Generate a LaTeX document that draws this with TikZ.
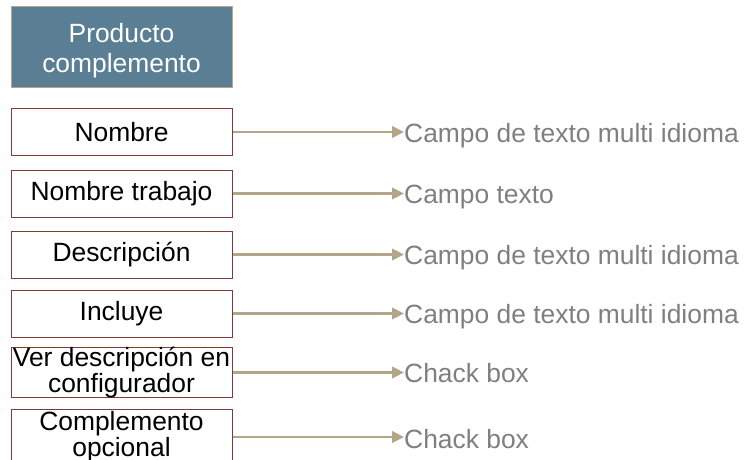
\documentclass[tikz,border=0pt]{standalone}
\usepackage{fontspec}
\setmainfont{Liberation Sans}
\usetikzlibrary{arrows.meta}
\definecolor{hdrfill}{HTML}{5A7E93}
\definecolor{hdrline}{HTML}{B3A88E}
\definecolor{boxline}{HTML}{7F3A36}
\definecolor{arrowc}{HTML}{B2A588}
\definecolor{labc}{HTML}{7F7F7F}
\begin{document}
\begin{tikzpicture}[x=1pt,y=-1pt,
  bigtxt/.style={font=\fontsize{26.4}{30}\selectfont},
  hdrbox/.style={draw=hdrline, line width=1pt, fill=hdrfill, minimum width=221pt, minimum height=81pt, inner sep=0pt},
  fieldbox/.style={draw=boxline, line width=1pt, fill=white, minimum width=221pt, minimum height=47pt, inner sep=0pt, align=center, bigtxt},
  tightbox/.style={fieldbox, font=\fontsize{26.4}{26}\selectfont},
  lab/.style={anchor=base west, inner sep=0pt, text=labc, bigtxt},
  conn/.style={draw=arrowc, line width=2.5pt, -{Triangle[length=12pt,width=11.5pt]}}
]
\clip (0,0) rectangle (748,460);
\node[hdrbox] (hdr) at (121.5,47.5) {};
\node[bigtxt, text=white, align=center] (hdrtxt) at (121.5,51) {Producto\\complemento};

\node[fieldbox] (b1) at (121.5,132) {Nombre};
\node[fieldbox] (b2) at (121.5,193.5) {Nombre trabajo};
\node[fieldbox] (b3) at (121.5,254.5) {Descripción};
\node[fieldbox] (b4) at (121.5,313.5) {Incluye};
\node[tightbox] (b5) at (121.5,372.5) {Ver descripción en\\configurador};
\node[tightbox, minimum height=56pt] (b6) at (121.5,437) {Complemento\\opcional};

\node[lab] (l1) at (404,142.5) {Campo de texto multi idioma};
\node[lab] (l2) at (404,203.5) {Campo texto};
\node[lab] (l3) at (404,264.5) {Campo de texto multi idioma};
\node[lab] (l4) at (404,323.5) {Campo de texto multi idioma};
\node[lab] (l5) at (404,382.5) {Chack box};
\node[lab] (l6) at (404,448) {Chack box};

\foreach \i in {1,...,6} {
  \draw[conn] (b\i.east) -- (b\i.east -| l\i.west);
}
\end{tikzpicture}
\end{document}
